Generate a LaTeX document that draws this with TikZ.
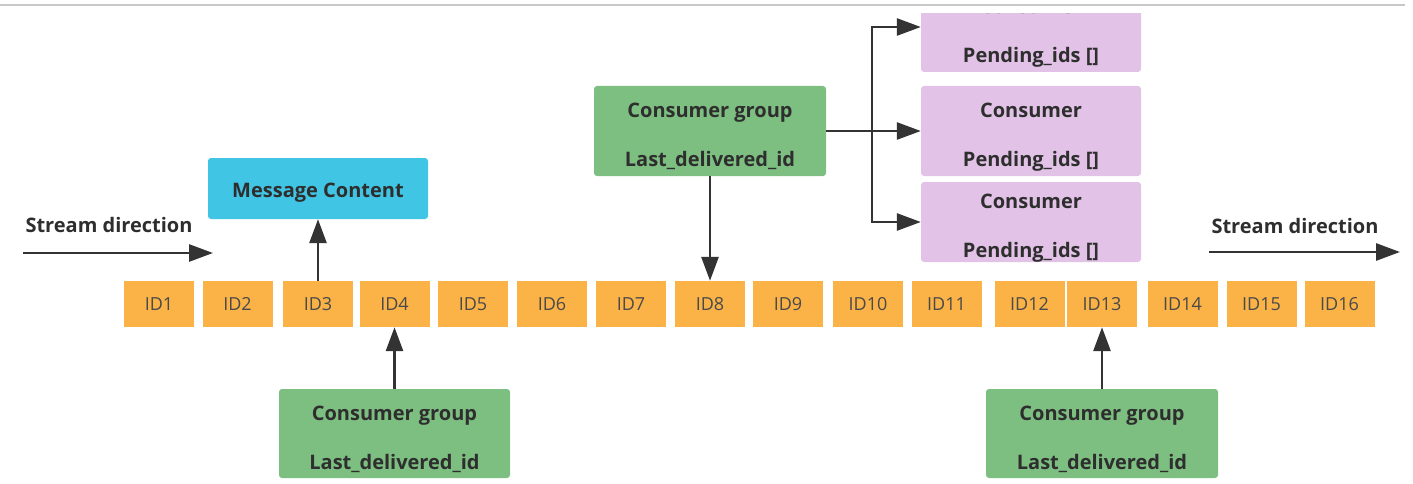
\documentclass[tikz,border=0pt]{standalone}
\usepackage{fontspec}
\setmainfont{Open Sans}
\usetikzlibrary{arrows.meta}

\definecolor{idorange}{HTML}{FBB347}
\definecolor{msgblue}{HTML}{40C5E5}
\definecolor{groupgreen}{HTML}{7DBE81}
\definecolor{consumerpink}{HTML}{E2C3E7}
\definecolor{labeltext}{HTML}{2E2E2E}
\definecolor{idtext}{HTML}{4A4A4A}
\definecolor{arrowgray}{HTML}{333333}
\definecolor{framegray}{HTML}{C8C8C8}

\newcommand\twolabel[2]{\rule{0pt}{26pt}#1\\#2}

\begin{document}
\begin{tikzpicture}[x=1pt, y=-1pt,
  idbox/.style={fill=idorange, minimum width=70pt, minimum height=46pt, inner sep=0pt, text=idtext, font=\fontsize{18}{20}\selectfont},
  notebox/.style={rounded corners=3pt, inner sep=0pt, align=center, text=labeltext, font=\bfseries\fontsize{20}{49}\selectfont},
  streamtext/.style={text=labeltext, inner sep=0pt, font=\bfseries\fontsize{20}{22}\selectfont},
  flow/.style={draw=arrowgray, line width=2.8pt, -{Triangle[length=24pt, width=17pt]}}]

\useasboundingbox (0,0) rectangle (1413,484);
\draw[framegray, line width=2pt] (0,5) -- (1405,5);

\node[idbox] (id1) at (159,304) {ID1};
\node[idbox] (id2) at (237.5,304) {ID2};
\node[idbox] (id3) at (318,304) {ID3};
\node[idbox] (id4) at (394.5,304) {ID4};
\node[idbox] (id5) at (473,304) {ID5};
\node[idbox] (id6) at (552,304) {ID6};
\node[idbox] (id7) at (631,304) {ID7};
\node[idbox] (id8) at (710,304) {ID8};
\node[idbox] (id9) at (788,304) {ID9};
\node[idbox] (id10) at (868,304) {ID10};
\node[idbox] (id11) at (946.5,304) {ID11};
\node[idbox] (id12) at (1029.5,304) {ID12};
\node[idbox] (id13) at (1102,304) {ID13};
\node[idbox] (id14) at (1182.5,304) {ID14};
\node[idbox] (id15) at (1261.5,304) {ID15};
\node[idbox] (id16) at (1339.5,304) {ID16};

\node[notebox, fill=msgblue, minimum width=220pt, minimum height=61pt, text height=22pt, text depth=4.5pt] (msg) at (318,188.5) {Message Content};
\node[notebox, fill=groupgreen, minimum width=232pt, minimum height=90pt] (cgmid) at (710,131) {\twolabel{Consumer group}{Last\_delivered\_id}};
\node[notebox, fill=groupgreen, minimum width=231pt, minimum height=89pt] (cgleft) at (394.5,433.5) {\twolabel{Consumer group}{Last\_delivered\_id}};
\node[notebox, fill=groupgreen, minimum width=232pt, minimum height=89pt] (cgright) at (1102,433.5) {\twolabel{Consumer group}{Last\_delivered\_id}};

\begin{scope}
\clip (900,14) rectangle (1160,100);
\node[notebox, fill=consumerpink, minimum width=220pt, minimum height=90pt] (ctop) at (1031,27) {\twolabel{Consumer}{Pending\_ids []}};
\end{scope}
\node[notebox, fill=consumerpink, minimum width=220pt, minimum height=90pt] (cmid) at (1031,131) {\twolabel{Consumer}{Pending\_ids []}};
\node[notebox, fill=consumerpink, minimum width=220pt, minimum height=80pt] (cbot) at (1031,222) {\twolabel{Consumer}{Pending\_ids []}};

\node[streamtext] (streamL) at (109,225) {Stream direction};
\node[streamtext] (streamR) at (1295,226) {Stream direction};
\coordinate (inL) at (23,253);
\coordinate (outL) at (213,253);
\coordinate (inR) at (1209,252);
\coordinate (outR) at (1400,252);
\coordinate (fork) at (872,131);

\draw[flow] (inL) -- (outL);
\draw[flow] (inR) -- (outR);
\draw[flow] (id3.north) -- (msg.south);
\draw[flow] (cgmid.south) -- (id8.north);
\draw[flow] (cgleft.north) -- (id4.south);
\draw[flow] (cgright.north) -- (id13.south);
\draw[flow] (cgmid.east) -- (cmid.west);
\draw[flow] (fork) |- (ctop.west);
\draw[flow] (fork) |- (cbot.west);

\end{tikzpicture}
\end{document}
